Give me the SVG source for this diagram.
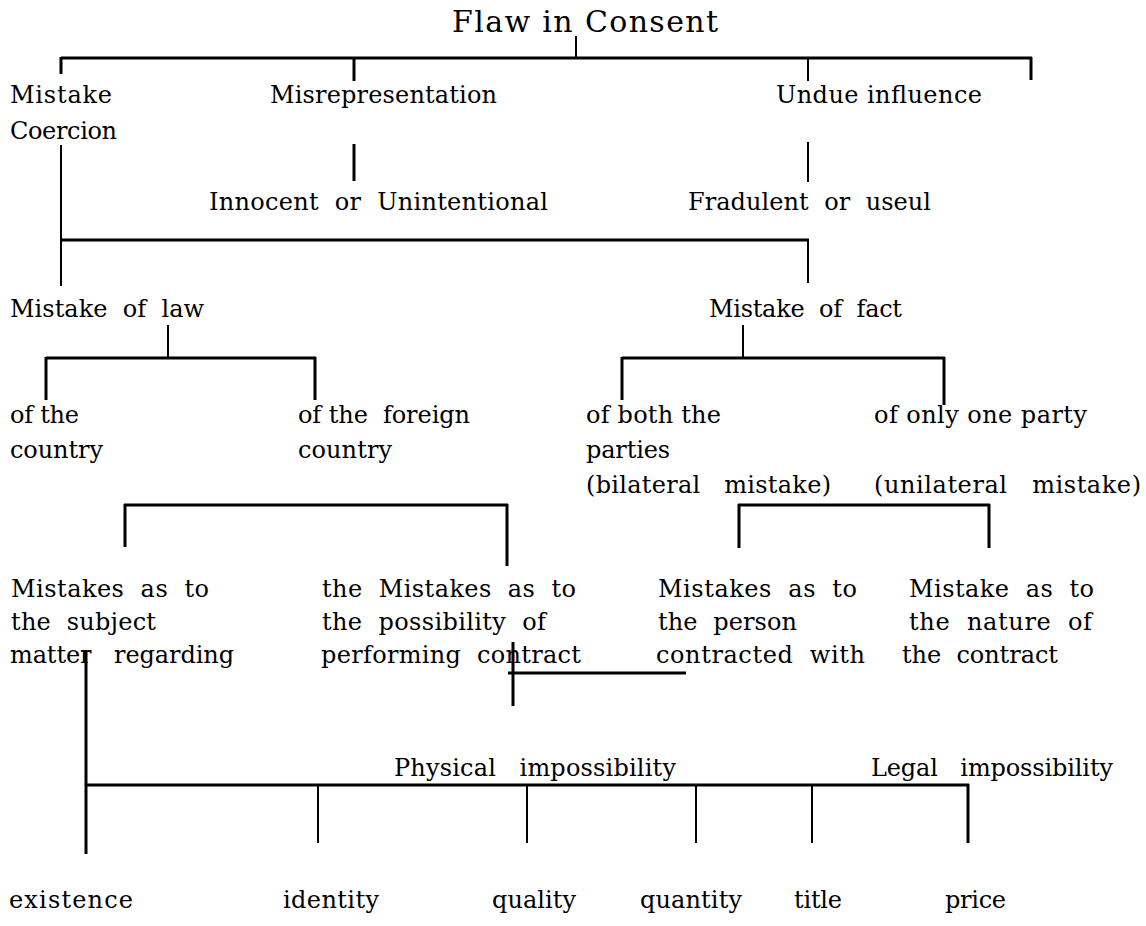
<svg xmlns="http://www.w3.org/2000/svg" width="1146" height="926" viewBox="0 0 1146 926">
<style>
text{font-family:"DejaVu Serif","Liberation Serif",serif;font-size:24px;fill:#000}
.t{font-size:30px}
line{stroke:#000;stroke-width:3;stroke-linecap:butt}
.n{stroke-width:2}
</style>
<rect width="1146" height="926" fill="#fff"/>
<g id="connectors">
<line class="n" x1="576" y1="36" x2="576" y2="58"/>
<line x1="61" y1="58" x2="1032" y2="58"/>
<line x1="61" y1="57" x2="61" y2="74"/>
<line x1="354" y1="57" x2="354" y2="81"/>
<line class="n" x1="808" y1="57" x2="808" y2="81"/>
<line x1="1031" y1="57" x2="1031" y2="80"/>
<line x1="354" y1="144" x2="354" y2="181"/>
<line class="n" x1="808" y1="142" x2="808" y2="182"/>
<line class="n" x1="61" y1="145" x2="61" y2="286"/>
<line x1="61" y1="240" x2="809" y2="240"/>
<line class="n" x1="808" y1="239" x2="808" y2="283"/>
<line class="n" x1="168" y1="325" x2="168" y2="358"/>
<line x1="46" y1="358" x2="316" y2="358"/>
<line x1="46" y1="357" x2="46" y2="400"/>
<line x1="315" y1="357" x2="315" y2="400"/>
<line class="n" x1="743" y1="325" x2="743" y2="358"/>
<line x1="622" y1="358" x2="945" y2="358"/>
<line x1="622" y1="357" x2="622" y2="400"/>
<line x1="944" y1="357" x2="944" y2="405"/>
<line x1="124" y1="505" x2="508" y2="505"/>
<line x1="125" y1="504" x2="125" y2="547"/>
<line x1="507" y1="504" x2="507" y2="566"/>
<line x1="738" y1="505" x2="990" y2="505"/>
<line x1="739" y1="504" x2="739" y2="548"/>
<line x1="989" y1="504" x2="989" y2="548"/>
<line x1="513" y1="642" x2="513" y2="706"/>
<line x1="508" y1="673" x2="686" y2="673"/>
<line x1="86" y1="650" x2="86" y2="854"/>
<line x1="87" y1="785" x2="969" y2="785"/>
<line class="n" x1="318" y1="785" x2="318" y2="843"/>
<line class="n" x1="527" y1="785" x2="527" y2="843"/>
<line class="n" x1="696" y1="785" x2="696" y2="843"/>
<line class="n" x1="812" y1="785" x2="812" y2="843"/>
<line x1="968" y1="784" x2="968" y2="843"/>
</g>
<g id="title"><text class="t" x="452" y="32" textLength="266" lengthAdjust="spacing">Flaw in Consent</text></g>
<g id="mistake"><text x="10" y="103" textLength="102" lengthAdjust="spacing">Mistake</text></g>
<g id="misrepresentation"><text x="270" y="103" textLength="227" lengthAdjust="spacing">Misrepresentation</text></g>
<g id="undue"><text x="776" y="103" textLength="206" lengthAdjust="spacing">Undue influence</text></g>
<g id="coercion"><text x="10" y="139" textLength="107" lengthAdjust="spacing">Coercion</text></g>
<g id="innocent"><text x="209" y="210" textLength="339" lengthAdjust="spacing" xml:space="preserve">Innocent  or  Unintentional</text></g>
<g id="fradulent"><text x="688" y="210" textLength="243" lengthAdjust="spacing" xml:space="preserve">Fradulent  or  useul</text></g>
<g id="mistake-law"><text x="10" y="317" textLength="194" lengthAdjust="spacing" xml:space="preserve">Mistake  of  law</text></g>
<g id="mistake-fact"><text x="709" y="317" textLength="193" lengthAdjust="spacing" xml:space="preserve">Mistake  of  fact</text></g>
<g id="country">
<text x="10" y="423" textLength="69" lengthAdjust="spacing">of the</text>
<text x="10" y="458" textLength="93" lengthAdjust="spacing">country</text>
</g>
<g id="foreign">
<text x="298" y="423" textLength="172" lengthAdjust="spacing" xml:space="preserve">of the  foreign</text>
<text x="298" y="458" textLength="94" lengthAdjust="spacing">country</text>
</g>
<g id="both">
<text x="586" y="423" textLength="135" lengthAdjust="spacing">of both the</text>
<text x="586" y="458" textLength="84" lengthAdjust="spacing">parties</text>
<text x="586" y="493" textLength="245" lengthAdjust="spacing" xml:space="preserve">(bilateral   mistake)</text>
</g>
<g id="one">
<text x="874" y="423" textLength="213" lengthAdjust="spacing">of only one party</text>
<text x="874" y="493" textLength="267" lengthAdjust="spacing" xml:space="preserve">(unilateral   mistake)</text>
</g>
<g id="subject">
<text x="11" y="597" textLength="198" lengthAdjust="spacing" xml:space="preserve">Mistakes  as  to</text>
<text x="11" y="630" textLength="145" lengthAdjust="spacing" xml:space="preserve">the  subject</text>
<text x="10" y="663" textLength="224" lengthAdjust="spacing" xml:space="preserve">matter   regarding</text>
</g>
<g id="possibility">
<text x="322" y="597" textLength="254" lengthAdjust="spacing" xml:space="preserve">the  Mistakes  as  to</text>
<text x="322" y="630" textLength="224" lengthAdjust="spacing" xml:space="preserve">the  possibility  of</text>
<text x="321" y="663" textLength="260" lengthAdjust="spacing" xml:space="preserve">performing  contract</text>
</g>
<g id="person">
<text x="658" y="597" textLength="199" lengthAdjust="spacing" xml:space="preserve">Mistakes  as  to</text>
<text x="658" y="630" textLength="139" lengthAdjust="spacing" xml:space="preserve">the  person</text>
<text x="656" y="663" textLength="209" lengthAdjust="spacing" xml:space="preserve">contracted  with</text>
</g>
<g id="nature">
<text x="909" y="597" textLength="185" lengthAdjust="spacing" xml:space="preserve">Mistake  as  to</text>
<text x="909" y="630" textLength="183" lengthAdjust="spacing" xml:space="preserve">the  nature  of</text>
<text x="902" y="663" textLength="156" lengthAdjust="spacing" xml:space="preserve">the  contract</text>
</g>
<g id="physical"><text x="394" y="776" textLength="282" lengthAdjust="spacing" xml:space="preserve">Physical   impossibility</text></g>
<g id="legal"><text x="871" y="776" textLength="242" lengthAdjust="spacing" xml:space="preserve">Legal   impossibility</text></g>
<g id="existence"><text x="9" y="908" textLength="124" lengthAdjust="spacing">existence</text></g>
<g id="identity"><text x="283" y="908" textLength="96" lengthAdjust="spacing">identity</text></g>
<g id="quality"><text x="492" y="908" textLength="84" lengthAdjust="spacing">quality</text></g>
<g id="quantity"><text x="640" y="908" textLength="102" lengthAdjust="spacing">quantity</text></g>
<g id="title-node"><text x="794" y="908" textLength="48" lengthAdjust="spacing">title</text></g>
<g id="price"><text x="945" y="908" textLength="61" lengthAdjust="spacing">price</text></g>
</svg>
